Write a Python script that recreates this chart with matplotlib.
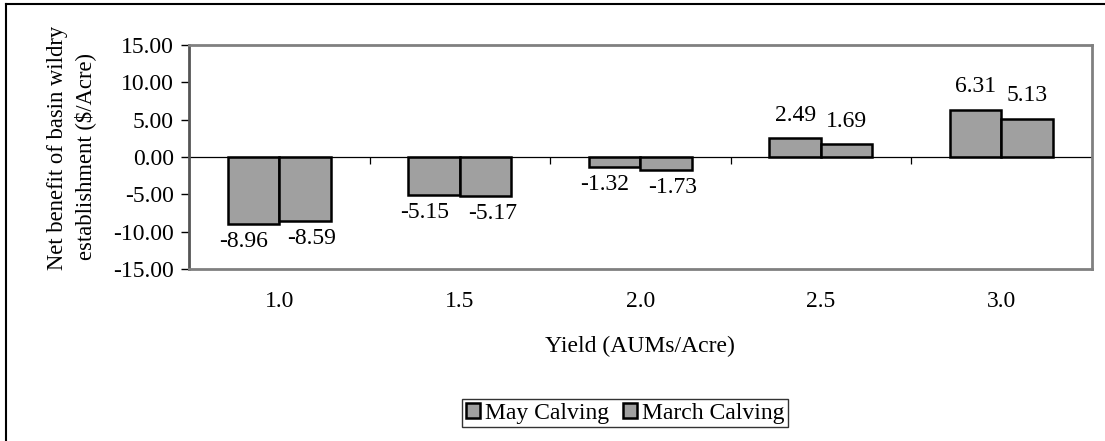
import matplotlib.pyplot as plt
import numpy as np
from matplotlib.lines import Line2D
from matplotlib.transforms import Bbox

plt.rcParams['font.family'] = ['Liberation Serif', 'DejaVu Serif']
plt.rcParams['font.size'] = 17

# Data
yields = ['1.0', '1.5', '2.0', '2.5', '3.0']
may_calving = [-8.96, -5.15, -1.32, 2.49, 6.31]
march_calving = [-8.59, -5.17, -1.73, 1.69, 5.13]
series_names = ['May Calving', 'March Calving']
yticks = [-15, -10, -5, 0, 5, 10, 15]

fig = plt.figure(figsize=(11.05, 4.41), dpi=100)
ax = fig.add_axes([0.171, 0.390, 0.817, 0.508])

x = np.arange(len(yields))
w = 0.285
bar_color = '#a0a0a0'
b1 = ax.bar(x - w / 2, may_calving, w, color=bar_color, edgecolor='black', linewidth=1.8)
b2 = ax.bar(x + w / 2, march_calving, w, color=bar_color, edgecolor='black', linewidth=1.8)

# value labels (negative ones are pushed apart a little, as Excel did)
for bars, shift in ((b1, -7), (b2, 5)):
    for bar in bars:
        v = bar.get_height()
        xc = bar.get_x() + bar.get_width() / 2
        if v >= 0:
            ax.annotate(f'{v:.2f}', (xc, v), xytext=(0, 9), textcoords='offset points',
                        ha='center', va='bottom')
        else:
            ax.annotate(f'{v:.2f}', (xc, v), xytext=(shift, -5), textcoords='offset points',
                        ha='center', va='top')

ax.axhline(0, color='black', linewidth=0.9, zorder=1)
# category boundary ticks on the zero line
bounds = x[:-1] + 0.5
ax.plot(bounds, np.zeros(len(bounds)), ls='none', marker=3, ms=5, color='black', mew=0.9)

ax.set_xlim(-0.5, len(yields) - 0.5)
ax.set_ylim(-15, 15)
ax.set_yticks(yticks)
ax.set_yticklabels([f'{t:.2f}' for t in yticks])
ax.tick_params(axis='y', length=6, width=1, color='black', pad=5)
ax.set_xticks(x)
ax.set_xticklabels(yields)
ax.tick_params(axis='x', length=0, pad=16)

for s in ax.spines.values():
    s.set_color('#808080')
    s.set_linewidth(2)
ax.spines['left'].set_color('#555555')

ax.set_xlabel('Yield (AUMs/Acre)', labelpad=17)

# two line y label, first line clipped at the top like the original
clip = Bbox.from_extents(0, 0, 200, 441 - 27)
t1 = fig.text(57 / 1105, 1 - 270 / 441, 'Net benefit of basin wildrye', rotation=90,
              ha='center', va='bottom', fontsize=16.3)
t1.set_clip_box(clip)
t1.set_clip_on(True)
fig.text(85 / 1105, 1 - 157 / 441, 'establishment ($/Acre)', rotation=90,
         ha='center', va='center', fontsize=16.3)

handles = [plt.Rectangle((0, 0), 1, 1, facecolor=bar_color, edgecolor='black', linewidth=1.8)
           for _ in series_names]
leg = fig.legend(handles, series_names, loc='center', bbox_to_anchor=(625 / 1105, 1 - 413 / 441),
                 ncol=2, frameon=True, fancybox=False, handlelength=0.6, handleheight=0.6,
                 handletextpad=0.2, columnspacing=0.6, borderpad=0.15, borderaxespad=0)
leg.get_frame().set_edgecolor('black')
leg.get_frame().set_linewidth(1)

# outer border (left and top only)
fig.add_artist(Line2D([6 / 1105, 6 / 1105], [0, 1 - 4 / 441], color='black', linewidth=1.5))
fig.add_artist(Line2D([6 / 1105, 1], [1 - 4 / 441, 1 - 4 / 441], color='black', linewidth=1.5))

fig.savefig('out.png', dpi=100)
